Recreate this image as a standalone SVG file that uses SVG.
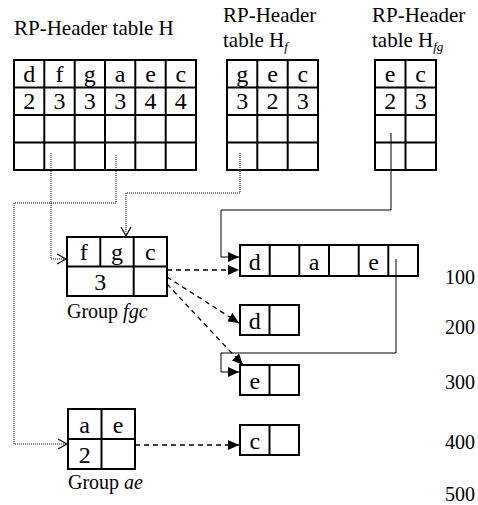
<svg xmlns="http://www.w3.org/2000/svg" width="478" height="505" viewBox="0 0 478 505" font-family="'Liberation Serif', 'DejaVu Serif', serif">
<style>
text{font-family:'Liberation Serif','DejaVu Serif',serif;fill:#000}
.h{font-size:21px}
.c{font-size:24px;text-anchor:middle}
.n{font-size:20px}
.box{fill:#fff;stroke:#000;stroke-width:2}
.ln{stroke:#000;stroke-width:2;fill:none}
.dot{stroke:#000;stroke-width:1;fill:none;stroke-dasharray:1 1}
.dash{stroke:#000;stroke-width:1.3;fill:none;stroke-dasharray:5 4}
.sol{stroke:#000;stroke-width:1;fill:none}
</style>
<defs>
<marker id="fa" markerUnits="userSpaceOnUse" markerWidth="12" markerHeight="10" refX="11" refY="5" orient="auto"><path d="M0,0 L11,5 L0,10 Z" fill="#000"/></marker>
<marker id="oa" markerUnits="userSpaceOnUse" markerWidth="12" markerHeight="12" refX="10" refY="6" orient="auto"><path d="M1,1 L10,6 L1,11" fill="none" stroke="#000" stroke-width="1.2"/></marker>
</defs>

<g id="tableH">
<text class="h" x="14" y="35">RP-Header table H</text>
<rect class="box" x="14" y="60" width="182" height="110"/>
<path class="ln" d="M44.3,60V170M74.7,60V170M105,60V170M135.3,60V170M165.7,60V170M14,87.5H196M14,115H196M14,142.5H196"/>
<text class="c" x="29.2" y="82">d</text><text class="c" x="59.5" y="82">f</text><text class="c" x="89.8" y="82">g</text><text class="c" x="120.2" y="82">a</text><text class="c" x="150.5" y="82">e</text><text class="c" x="180.8" y="82">c</text>
<text class="c" x="29.2" y="109">2</text><text class="c" x="59.5" y="109">3</text><text class="c" x="89.8" y="109">3</text><text class="c" x="120.2" y="109">3</text><text class="c" x="150.5" y="109">4</text><text class="c" x="180.8" y="109">4</text>
</g>

<g id="tableHf">
<text class="h" x="223" y="22">RP-Header</text>
<text class="h" x="223" y="47">table H<tspan font-style="italic" font-size="13" dy="4">f</tspan></text>
<rect class="box" x="227" y="60" width="91" height="110"/>
<path class="ln" d="M257.3,60V170M287.7,60V170M227,87.5H318M227,115H318M227,142.5H318"/>
<text class="c" x="242.2" y="82">g</text><text class="c" x="272.5" y="82">e</text><text class="c" x="302.8" y="82">c</text>
<text class="c" x="242.2" y="109">3</text><text class="c" x="272.5" y="109">2</text><text class="c" x="302.8" y="109">3</text>
</g>

<g id="tableHfg">
<text class="h" x="372" y="22">RP-Header</text>
<text class="h" x="372" y="47">table H<tspan font-style="italic" font-size="13" dy="4">fg</tspan></text>
<rect class="box" x="375" y="60" width="61" height="110"/>
<path class="ln" d="M405.5,60V170M375,87.5H436M375,115H436M375,142.5H436"/>
<text class="c" x="390.2" y="82">e</text><text class="c" x="420.7" y="82">c</text>
<text class="c" x="390.2" y="109">2</text><text class="c" x="420.7" y="109">3</text>
</g>

<g id="groupFgc">
<rect class="box" x="67" y="237" width="100" height="59"/>
<path class="ln" d="M67,266.5H167M100.3,237V266.5M133.7,237V296"/>
<text class="c" x="83.7" y="260">f</text><text class="c" x="117" y="260">g</text><text class="c" x="150.3" y="260">c</text>
<text class="c" x="100.3" y="290">3</text>
<text class="n" x="67" y="318">Group <tspan font-style="italic">fgc</tspan></text>
</g>

<g id="groupAe">
<rect class="box" x="68" y="409" width="67" height="60"/>
<path class="ln" d="M68,439H135M101.5,409V469"/>
<text class="c" x="84.7" y="433">a</text><text class="c" x="118.2" y="433">e</text>
<text class="c" x="84.7" y="463">2</text>
<text class="n" x="68" y="489">Group <tspan font-style="italic">ae</tspan></text>
</g>

<g id="list100">
<rect class="box" x="240" y="245" width="178" height="31"/>
<path class="ln" d="M269.7,245V276M299.3,245V276M329,245V276M358.7,245V276M388.3,245V276"/>
<text class="c" x="254.8" y="270">d</text><text class="c" x="314.2" y="270">a</text><text class="c" x="373.5" y="270">e</text>
</g>
<g id="list200">
<rect class="box" x="240" y="305" width="59" height="30"/>
<path class="ln" d="M269.5,305V335"/>
<text class="c" x="254.8" y="329">d</text>
</g>
<g id="list300">
<rect class="box" x="240" y="365" width="59" height="30"/>
<path class="ln" d="M269.5,365V395"/>
<text class="c" x="254.8" y="389">e</text>
</g>
<g id="list400">
<rect class="box" x="240" y="425" width="59" height="30"/>
<path class="ln" d="M269.5,425V455"/>
<text class="c" x="254.8" y="449">c</text>
</g>

<g id="addresses">
<text class="n" x="445" y="284">100</text>
<text class="n" x="445" y="334">200</text>
<text class="n" x="445" y="389">300</text>
<text class="n" x="445" y="449">400</text>
<text class="n" x="445" y="501">500</text>
</g>

<g id="connectors">
<path class="dot" d="M51,153V259H66" marker-end="url(#oa)"/>
<path class="dot" d="M116,155V203H14V444H67" marker-end="url(#oa)"/>
<path class="dot" d="M240,153V193H126V236" marker-end="url(#oa)"/>
<path class="sol" d="M391,133V210H221V257H239" marker-end="url(#fa)"/>
<path class="sol" d="M396,259V353H221V372H239" marker-end="url(#fa)"/>
<path class="dash" d="M167,270H239" marker-end="url(#fa)"/>
<path class="dash" d="M167,277L239,323" marker-end="url(#fa)"/>
<path class="dash" d="M167,284L243,365" marker-end="url(#fa)"/>
<path class="dash" d="M135,445H239" marker-end="url(#fa)"/>
</g>
</svg>
